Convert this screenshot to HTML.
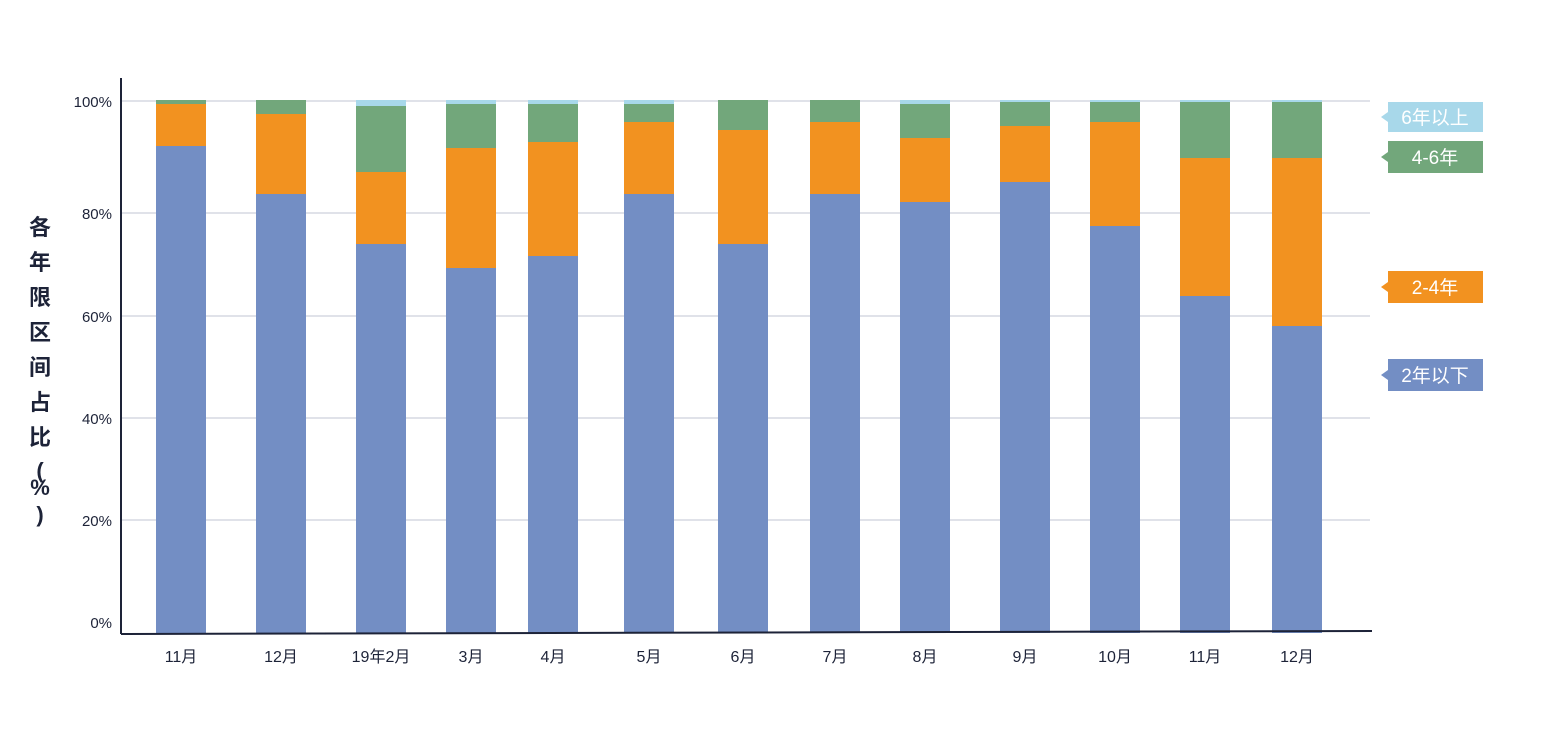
<!DOCTYPE html>
<html><head><meta charset="utf-8"><style>
html,body{margin:0;padding:0;background:#fff;}
svg{display:block;}
text{font-family:"Liberation Sans","Noto Sans CJK SC",sans-serif;fill:#1d2338;}
</style></head><body>
<svg width="1550" height="750" xmlns="http://www.w3.org/2000/svg">
<g stroke="#d5d8e2" stroke-width="1.5">
<line x1="121" y1="101" x2="1370" y2="101"/>
<line x1="121" y1="213" x2="1370" y2="213"/>
<line x1="121" y1="316" x2="1370" y2="316"/>
<line x1="121" y1="418" x2="1370" y2="418"/>
<line x1="121" y1="520" x2="1370" y2="520"/>
</g>
<g id="bars"></g>
<line x1="121" y1="78" x2="121" y2="634" stroke="#1d2338" stroke-width="2"/>
<line x1="121" y1="634" x2="1372" y2="631" stroke="#1d2338" stroke-width="2"/>
<g font-size="15" text-anchor="end">
<text x="112" y="107">100%</text>
<text x="112" y="219">80%</text>
<text x="112" y="322">60%</text>
<text x="112" y="424">40%</text>
<text x="112" y="526">20%</text>
<text x="112" y="628">0%</text>
</g>
<g font-size="22" font-weight="bold" text-anchor="middle">
<text x="40" y="235">各</text>
<text x="40" y="270">年</text>
<text x="40" y="305">限</text>
<text x="40" y="340">区</text>
<text x="40" y="375">间</text>
<text x="40" y="410">占</text>
<text x="40" y="445">比</text>
<text x="40" y="478">(</text>
<text x="40" y="495">%</text>
<text x="40" y="522">)</text>
</g>
<g font-size="16" text-anchor="middle" id="xl"></g>
<g font-size="19" text-anchor="middle">
<polygon points="1381,117 1388,112 1388,122" fill="#a8d8ea"/>
<rect x="1388" y="102" width="95" height="30" fill="#a8d8ea"/>
<text x="1435" y="124" style="fill:#fff">6年以上</text>
<polygon points="1381,157 1388,152 1388,162" fill="#72a77b"/>
<rect x="1388" y="141" width="95" height="32" fill="#72a77b"/>
<text x="1435" y="164" style="fill:#fff">4-6年</text>
<polygon points="1381,287 1388,282 1388,292" fill="#f29220"/>
<rect x="1388" y="271" width="95" height="32" fill="#f29220"/>
<text x="1435" y="294" style="fill:#fff">2-4年</text>
<polygon points="1381,375 1388,370 1388,380" fill="#738ec4"/>
<rect x="1388" y="359" width="95" height="32" fill="#738ec4"/>
<text x="1435" y="382" style="fill:#fff">2年以下</text>
</g>
</svg>
<script>
var d=[[156,146,104,100,100,'11月'],[256,194,114,100,100,'12月'],[356,244,172,106,100,'19年2月'],[446,268,148,104,100,'3月'],[528,256,142,104,100,'4月'],[624,194,122,104,100,'5月'],[718,244,130,100,100,'6月'],[810,194,122,100,100,'7月'],[900,202,138,104,100,'8月'],[1000,182,126,102,100,'9月'],[1090,226,122,102,100,'10月'],[1180,296,158,102,100,'11月'],[1272,326,158,102,100,'12月']];
var ns='http://www.w3.org/2000/svg',g=document.getElementById('bars'),xl=document.getElementById('xl');
function r(x,y1,y2,c){if(y2<=y1)return;var e=document.createElementNS(ns,'rect');e.setAttribute('x',x);e.setAttribute('y',y1);e.setAttribute('width',50);e.setAttribute('height',y2-y1);e.setAttribute('fill',c);g.appendChild(e);}
d.forEach(function(b){var x=b[0];r(x,b[1],633,'#738ec4');r(x,b[2],b[1],'#f29220');r(x,b[3],b[2],'#72a77b');r(x,b[4],b[3],'#a8d8ea');
var t=document.createElementNS(ns,'text');t.setAttribute('x',x+25);t.setAttribute('y',662);t.textContent=b[5];xl.appendChild(t);});
</script>
</body></html>
